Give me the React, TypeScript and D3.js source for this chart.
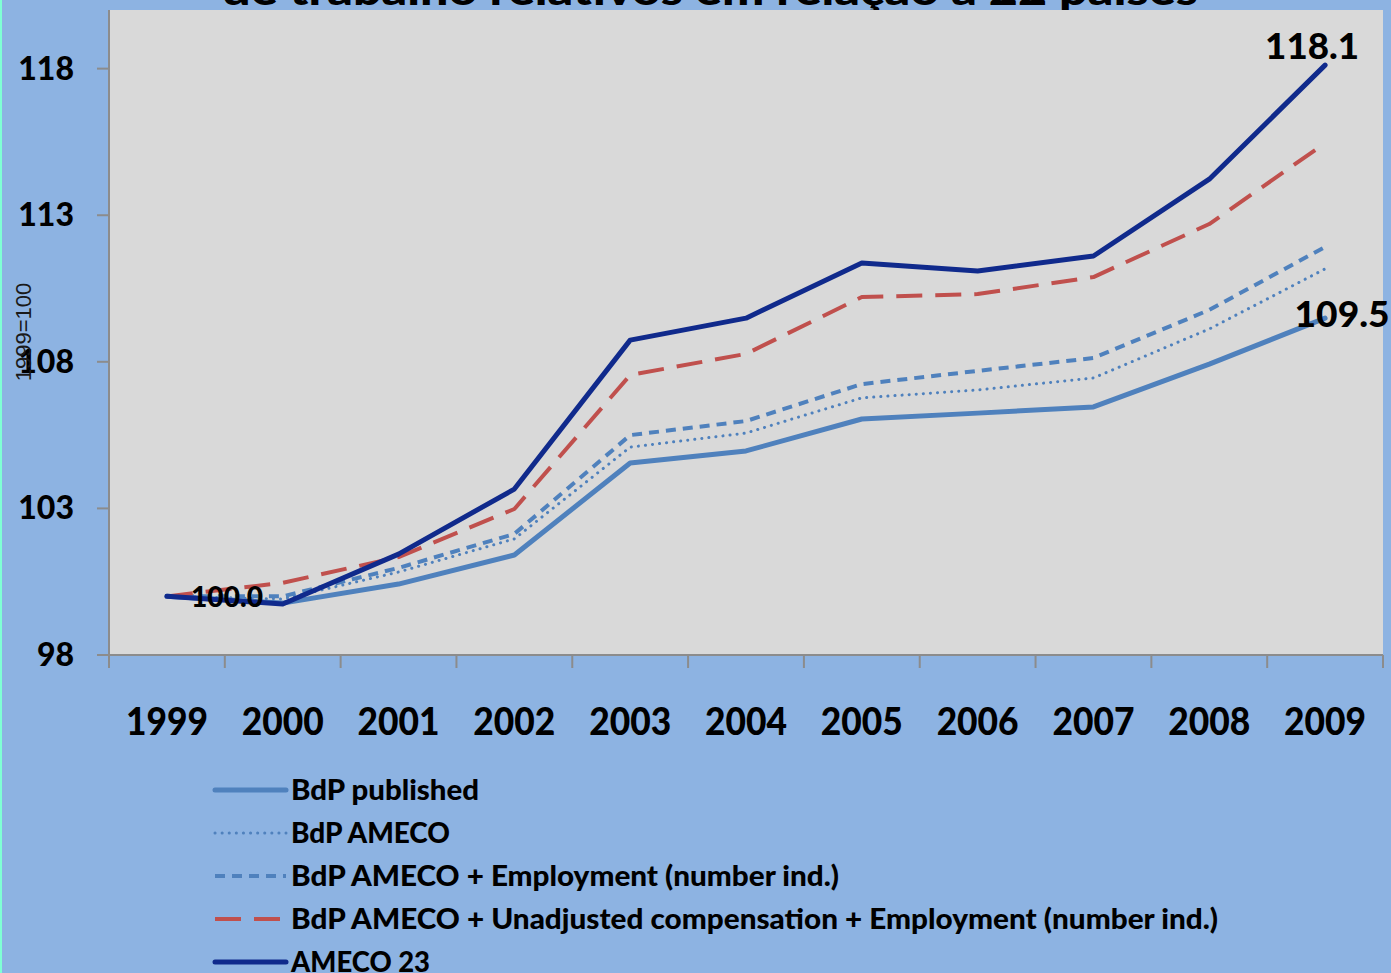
import React from "react";
import * as d3 from "d3";

const years = ["1999", "2000", "2001", "2002", "2003", "2004", "2005", "2006", "2007", "2008", "2009"];
const bdpPublished = [100.0, 99.77, 100.42, 101.41, 104.55, 104.96, 106.05, 106.25, 106.46, 107.92, 109.49];
const bdpAmeco = [100.0, 99.91, 100.83, 101.96, 105.09, 105.57, 106.77, 107.04, 107.45, 109.12, 111.17];
const bdpAmecoEmp = [100.0, 100.0, 100.97, 102.13, 105.5, 105.98, 107.24, 107.69, 108.13, 109.77, 111.92];
const bdpAmecoUnadj = [100.0, 100.46, 101.34, 102.98, 107.55, 108.27, 110.21, 110.31, 110.89, 112.7, 115.46];
const ameco23 = [100.0, 99.74, 101.44, 103.66, 108.74, 109.49, 111.37, 111.1, 111.61, 114.23, 118.12];
const yTicks = [98, 103, 108, 113, 118];
const seriesNames = [
  "BdP published",
  "BdP AMECO",
  "BdP AMECO + Employment (number ind.)",
  "BdP AMECO + Unadjusted compensation + Employment (number ind.)",
  "AMECO 23",
];
const titleText = "de trabalho relativos em relação a 22 países";
const yAxisTitle = "1999=100";

const W = 1391;
const H = 973;
const plot = { left: 109, right: 1383, top: 10, bottom: 655 };
const FONT = "Lato, 'Open Sans', sans-serif";
const FW = 900;

const styles = [
  { color: "#4F81BD", width: 5, dash: "", cap: "round", legendWidth: 188 },
  { color: "#4F81BD", width: 3, dash: "0.1 7", cap: "round", legendWidth: 159 },
  { color: "#4F81BD", width: 4, dash: "10 7", cap: "butt", legendWidth: 548 },
  { color: "#C0504D", width: 4, dash: "26 13", cap: "butt", legendWidth: 927 },
  { color: "#102A8C", width: 5, dash: "", cap: "round", legendWidth: 139 },
];

export default function App() {
  const data = [bdpPublished, bdpAmeco, bdpAmecoEmp, bdpAmecoUnadj, ameco23];
  const x = d3.scaleBand<string>().domain(years).range([plot.left, plot.right]).padding(0);
  const y = d3.scaleLinear().domain([98, 120]).range([plot.bottom, plot.top]);
  const cx = (i: number) => (x(years[i]) as number) + x.bandwidth() / 2;
  const line = d3
    .line<number>()
    .x((_, i) => cx(i))
    .y((d) => y(d));
  const boundaries = years.map((yr) => x(yr) as number).concat([plot.right]);
  const legendY = [790, 833, 876, 919, 962];
  const last = years.length - 1;

  return (
    <svg
      width={W}
      height={H}
      style={{ position: "absolute", left: 0, top: 0, display: "block" }}
    >
      <rect x={0} y={0} width={W} height={H} fill="#8DB3E2" />
      <rect x={0} y={0} width={2} height={H} fill="#7FFFD4" />
      <text
        x={710}
        y={5}
        textAnchor="middle"
        fontFamily={FONT}
        fontWeight={FW}
        fontSize={42}
        textLength={976}
        lengthAdjust="spacingAndGlyphs"
        fill="#000"
      >
        {titleText}
      </text>
      <rect
        x={plot.left}
        y={plot.top}
        width={plot.right - plot.left}
        height={plot.bottom - plot.top}
        fill="#D9D9D9"
      />
      {/* y axis */}
      <line x1={plot.left} x2={plot.left} y1={plot.top} y2={plot.bottom} stroke="#8C8C8C" strokeWidth={2} />
      {yTicks.map((t) => (
        <g key={t}>
          <line x1={97} x2={plot.left} y1={y(t)} y2={y(t)} stroke="#8C8C8C" strokeWidth={2} />
          <text
            x={74}
            y={y(t) + 11}
            textAnchor="end"
            fontFamily={FONT}
            fontWeight={FW}
            fontSize={32}
            fill="#000"
          >
            {t}
          </text>
        </g>
      ))}
      {/* x axis */}
      <line x1={plot.left} x2={plot.right} y1={plot.bottom} y2={plot.bottom} stroke="#8C8C8C" strokeWidth={2} />
      {boundaries.map((b, i) => (
        <line key={i} x1={b} x2={b} y1={plot.bottom} y2={668} stroke="#8C8C8C" strokeWidth={2} />
      ))}
      {years.map((yr, i) => (
        <text
          key={yr}
          x={cx(i)}
          y={735}
          textAnchor="middle"
          fontFamily={FONT}
          fontWeight={FW}
          fontSize={37}
          textLength={82}
          lengthAdjust="spacingAndGlyphs"
          fill="#000"
        >
          {yr}
        </text>
      ))}
      <text
        transform={`translate(31,332) rotate(-90)`}
        textAnchor="middle"
        fontFamily="'Liberation Sans', Arial, sans-serif"
        fontSize={22}
        fill="#1a1a1a"
      >
        {yAxisTitle}
      </text>
      {/* series */}
      {data.map((s, k) => (
        <path
          key={k}
          d={line(s) as string}
          fill="none"
          stroke={styles[k].color}
          strokeWidth={styles[k].width}
          strokeDasharray={styles[k].dash || undefined}
          strokeLinecap={styles[k].cap as any}
          strokeLinejoin="round"
        />
      ))}
      {/* data labels */}
      <text x={227} y={607} textAnchor="middle" fontFamily={FONT} fontWeight={FW} fontSize={28} textLength={72} lengthAdjust="spacingAndGlyphs" fill="#000">
        {bdpPublished[0].toFixed(1)}
      </text>
      <text x={cx(last) - 13} y={59} textAnchor="middle" fontFamily={FONT} fontWeight={FW} fontSize={36} textLength={94} lengthAdjust="spacingAndGlyphs" fill="#000">
        {ameco23[last].toFixed(1)}
      </text>
      <text x={cx(last) + 17} y={327} textAnchor="middle" fontFamily={FONT} fontWeight={FW} fontSize={36} textLength={95} lengthAdjust="spacingAndGlyphs" fill="#000">
        {bdpPublished[last].toFixed(1)}
      </text>
      {/* legend */}
      {seriesNames.map((n, k) => (
        <g key={n}>
          <line
            x1={215}
            x2={286}
            y1={legendY[k]}
            y2={legendY[k]}
            stroke={styles[k].color}
            strokeWidth={styles[k].width}
            strokeDasharray={styles[k].dash || undefined}
            strokeLinecap={styles[k].cap as any}
          />
          <text
            x={291}
            y={legendY[k] + 10}
            fontFamily={FONT}
            fontWeight={FW}
            fontSize={29}
            textLength={styles[k].legendWidth}
            lengthAdjust="spacingAndGlyphs"
            fill="#000"
          >
            {n}
          </text>
        </g>
      ))}
    </svg>
  );
}
